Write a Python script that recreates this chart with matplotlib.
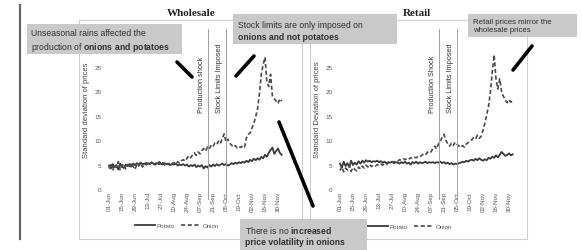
import numpy as np
import matplotlib
matplotlib.use("Agg")
import matplotlib.pyplot as plt
from matplotlib.patches import Rectangle
from matplotlib.lines import Line2D

plt.rcParams['font.family'] = ['Liberation Sans', 'DejaVu Sans']
plt.rcParams['mathtext.fontset'] = 'custom'
plt.rcParams['mathtext.rm'] = 'Liberation Sans'
plt.rcParams['mathtext.bf'] = 'Liberation Sans:bold'

W, H, DPI = 582, 251, 100

# ---------------- data ----------------
tick_labels = ["01-Jun", "15-Jun", "29-Jun", "13-Jul", "27-Jul", "10-Aug", "24-Aug",
               "07-Sep", "21-Sep", "05-Oct", "19-Oct", "02-Nov", "16-Nov", "30-Nov"]
tick_days = list(range(0, 183, 14))
days = list(range(0, 187, 2))

ws_onion = [4.2, 5.3, 3.8, 5.0, 4.4, 5.6, 3.9, 4.8, 5.2, 4.1, 5.0,
            4.3, 5.4, 4.6, 4.0, 5.1, 4.7, 5.3, 4.5, 5.0, 5.4,
            4.8, 5.2, 5.5, 4.9, 5.3, 5.0, 5.6, 5.1, 5.4, 4.9,
            5.3, 5.0, 5.5, 5.2, 5.4, 5.1, 5.6, 5.3, 5.8, 6.0,
            5.7, 6.3, 6.8, 6.4, 7.0, 7.4, 6.9, 7.6, 7.2, 7.9,
            8.3, 7.8, 8.6, 8.2, 9.0, 8.7, 9.4, 9.1, 9.8, 9.3,
            10.4, 11.3, 9.6, 10.2, 9.4, 9.0, 8.6, 8.9, 8.4, 8.7,
            8.5, 8.9, 8.6, 10.5, 11.2, 11.5, 12.5, 13.5, 14.8, 16.5,
            19.5, 23.5, 25.5, 27.0, 22.0, 21.0, 23.5, 19.0, 18.5, 18.0, 17.5, 18.5, 18.0]
ws_potato = [4.8, 4.2, 5.1, 4.5, 4.9, 4.0, 5.2, 4.6, 4.3, 5.0, 4.7,
             5.1, 4.6, 5.2, 4.9, 5.3, 5.0, 5.4, 5.1, 5.2, 5.0,
             5.3, 5.1, 5.4, 5.2, 5.0, 5.3, 5.1, 5.2, 5.0, 5.3,
             5.1, 5.2, 4.9, 5.1, 5.0, 5.2, 4.8, 5.0, 4.9, 5.1,
             4.8, 5.0, 4.6, 4.9, 4.7, 5.0, 4.5, 4.8, 4.6, 4.9,
             4.2, 4.7, 4.4, 4.9, 4.6, 5.0, 4.7, 5.1, 4.8, 5.0,
             5.2, 4.9, 5.1, 4.8, 5.0, 5.3, 5.1, 5.4, 5.2, 5.5,
             5.3, 5.6, 5.4, 5.8, 5.5, 6.0, 5.7, 6.2, 5.9, 6.3,
             6.0, 6.6, 6.3, 7.0, 6.6, 7.4, 8.0, 8.5, 7.2, 7.8, 8.3, 7.4, 7.0]
rt_onion = [3.8, 4.6, 3.5, 4.3, 3.9, 4.8, 3.6, 4.4, 4.0, 3.7, 4.5,
            4.1, 4.7, 4.3, 4.9, 4.5, 5.0, 4.6, 4.9, 4.7, 5.0,
            4.8, 5.1, 4.9, 5.2, 5.0, 5.4, 5.3, 5.6, 5.5, 5.8,
            5.7, 6.0, 5.9, 6.2, 6.0, 6.3, 6.1, 6.4, 6.2, 6.5,
            6.4, 6.7, 6.6, 6.9, 7.2, 7.0, 7.5, 7.8, 7.6, 8.3,
            8.8, 8.2, 9.2, 9.8, 10.6, 11.2, 10.0, 9.3, 8.8, 9.4,
            8.9, 9.6, 9.2, 8.8, 8.5, 8.9, 8.6, 9.2, 9.5, 9.8,
            10.1, 10.6, 10.3, 11.0, 10.4, 10.8, 12.0, 13.5, 15.2, 17.0,
            20.0, 24.0, 27.5, 22.5, 20.5, 22.6, 20.0, 19.0, 18.2, 17.7, 18.3, 17.8, 18.0]
rt_potato = [5.2, 4.4, 5.6, 4.7, 5.3, 4.5, 5.8, 4.9, 5.4, 5.0, 5.7,
             5.2, 5.8, 5.4, 5.9, 5.6, 5.8, 5.5, 5.7, 5.6, 5.8,
             5.5, 5.7, 5.4, 5.6, 5.3, 5.5, 5.4, 5.6, 5.3, 5.5,
             5.4, 5.2, 5.5, 5.3, 5.6, 5.2, 5.4, 5.0, 5.5, 5.3,
             5.6, 5.2, 5.5, 5.3, 5.4, 5.6, 5.3, 5.5, 5.4, 5.5,
             5.3, 5.5, 5.4, 5.6, 5.3, 5.5, 5.2, 5.4, 5.1, 5.3,
             5.0, 5.2, 5.1, 5.3, 5.4, 5.6, 5.5, 5.8, 5.6, 5.9,
             6.0, 5.8, 6.2, 5.9, 6.3, 6.0, 5.8, 6.1, 5.9, 6.4,
             6.2, 6.6, 6.4, 6.9, 6.5, 7.0, 7.6, 7.2, 6.8, 7.0, 7.3, 6.9, 7.1]

event_days = [107, 126]
ws_event_labels = ["Production shock", "Stock Limits Imposed"]
rt_event_labels = ["Production Shock", "Stock Limits Imposed"]
series_names = ["Potato", "Onion"]
y_ticks = [0, 5, 10, 15, 20, 25]

# ---------------- figure ----------------
fig = plt.figure(figsize=(W / DPI, H / DPI), dpi=DPI)
fig.patch.set_facecolor('white')

PX_PER_DAY = 13.0 / 14.0
XMIN, XMAX = -6, 195
YTOP = 32.8
Y0_PX, YTOP_PX = 190, 30


def make_axes(day0_px):
    left = day0_px + XMIN * PX_PER_DAY
    right = day0_px + XMAX * PX_PER_DAY
    ax = fig.add_axes([left / W, (H - Y0_PX) / H, (right - left) / W, (Y0_PX - YTOP_PX) / H])
    ax.set_xlim(XMIN, XMAX)
    ax.set_ylim(0, YTOP)
    ax.patch.set_alpha(0)
    for s in ax.spines.values():
        s.set_visible(False)
    ax.set_yticks(y_ticks)
    ax.set_yticklabels([str(v) for v in y_ticks], fontsize=4.5, color='#555')
    ax.set_xticks(tick_days)
    ax.set_xticklabels(tick_labels, rotation=90, fontsize=4.5, color='#555')
    ax.tick_params(length=0, pad=1.5)
    return ax


def draw_panel(ax, onion, potato, ev_labels, ylabel, leg_center):
    lp, = ax.plot(days, potato, color='#3a3a3a', lw=1.3)
    lo, = ax.plot(days, onion, color='#4a4a4a', lw=1.2, ls=(0, (2.5, 1.5)))
    for d, lab in zip(event_days, ev_labels):
        ax.axvline(d, ymin=-0.06, ymax=1.0, color='#a0a0a0', lw=0.7, clip_on=False)
        ax.text(d - 7.5, 15.8, lab, rotation=90, ha='center', va='bottom',
                fontsize=5.3, color='#333')
    ax.set_ylabel(ylabel, fontsize=5.5, color='#444', labelpad=3)
    ax.legend([lp, lo], series_names, ncol=2, frameon=False, fontsize=4.5,
              handlelength=3.2, columnspacing=1.0, handletextpad=0.3,
              loc='center', bbox_to_anchor=(leg_center[0] / W, 1 - leg_center[1] / H),
              bbox_transform=fig.transFigure, labelcolor='#555')


ax1 = make_axes(109)
draw_panel(ax1, ws_onion, ws_potato, ws_event_labels,
           "Standard deviation of prices", (177, 226))
ax2 = make_axes(340)
draw_panel(ax2, rt_onion, rt_potato, rt_event_labels,
           "Standard Deviation of prices", (410, 227))

# ---------------- overlay (frames, annotations) ----------------
ov = fig.add_axes([0, 0, 1, 1], zorder=10)
ov.set_xlim(0, W)
ov.set_ylim(H, 0)
ov.axis('off')
ov.patch.set_alpha(0)

ov.plot([20, 20], [6, 240], color='#666', lw=1.6)
ov.add_patch(Rectangle((79, 21), 223, 219, fill=False, ec='#cfcfcf', lw=0.8))
ov.add_patch(Rectangle((310, 21), 217, 219, fill=False, ec='#cfcfcf', lw=0.8))

ov.text(191, 14, "Wholesale", family='Liberation Serif', weight='bold', fontsize=8,
        ha='center', va='center', color='#222',
        bbox=dict(fc='white', ec='none', pad=1))
ov.text(417, 14, "Retail", family='Liberation Serif', weight='bold', fontsize=8,
        ha='center', va='center', color='#222',
        bbox=dict(fc='white', ec='none', pad=1))

box_fc = '#c9c9c9'
tc = '#2f2f2f'
ov.add_patch(Rectangle((27, 25), 155, 30, fc=box_fc, ec='none'))
ov.text(31, 34, "Unseasonal rains affected the", fontsize=6.2, va='center', color=tc)
ov.text(31, 47, "production of $\\mathbf{onions\\ and\\ potatoes}$", fontsize=6.2, va='center', color=tc)

ov.add_patch(Rectangle((233, 15), 164, 30, fc=box_fc, ec='none'))
ov.text(238, 25, "Stock limits are only imposed on", fontsize=6.2, va='center', color=tc)
ov.text(238, 37, "onions and not potatoes", fontsize=6.2, va='center', color=tc, weight='bold')

ov.add_patch(Rectangle((468, 15), 109, 23, fc=box_fc, ec='none'))
ov.text(473, 22, "Retail prices mirror the", fontsize=5.6, va='center', color=tc)
ov.text(473, 31, "wholesale prices", fontsize=5.6, va='center', color=tc)

ov.add_patch(Rectangle((240, 220), 127, 31, fc=box_fc, ec='none'))
ov.text(245, 231, "There is no $\\mathbf{increased}$", fontsize=6.2, va='center', color=tc)
ov.text(245, 243, "price volatility in onions", fontsize=6.2, va='center', color=tc, weight='bold')

for (x0, y0, x1, y1) in [(177, 63, 192, 78), (254, 57, 236, 77),
                         (532, 47, 513, 71), (313, 207, 279, 123)]:
    ov.plot([x0, x1], [y0, y1], color='black', lw=2.6, solid_capstyle='round')

fig.savefig("out.png", dpi=DPI, facecolor='white')
